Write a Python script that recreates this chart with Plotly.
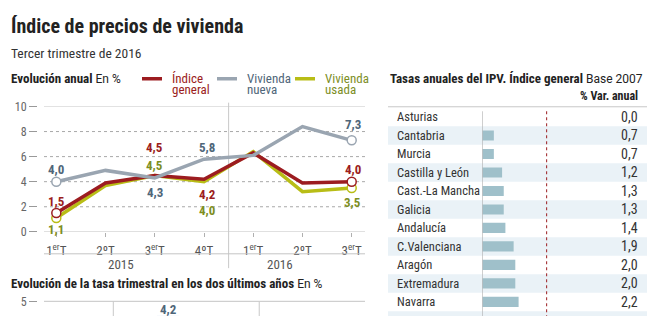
import plotly.graph_objects as go

# ---- data ---------------------------------------------------------------
trimestres = ["1<sup>er</sup>T", "2ºT", "3<sup>er</sup>T", "4ºT", "1<sup>er</sup>T", "2ºT", "3<sup>er</sup>T"]
anios = ["2015", "2016"]
indice_general = [1.5, 3.9, 4.5, 4.2, 6.3, 3.9, 4.0]
vivienda_nueva = [4.0, 4.9, 4.3, 5.8, 6.1, 8.4, 7.3]
vivienda_usada = [1.1, 3.7, 4.5, 4.0, 6.4, 3.2, 3.5]

ccaa = ["Asturias", "Cantabria", "Murcia", "Castilla y León", "Cast.-La Mancha",
        "Galicia", "Andalucía", "C.Valenciana", "Aragón", "Extremadura", "Navarra"]
tasa_ccaa = [0.0, 0.7, 0.7, 1.2, 1.3, 1.3, 1.4, 1.9, 2.0, 2.0, 2.2]
media_nacional = 3.9

trimestres_tasa = ["3T14", "4T14", "1T15", "2T15", "3T15", "4T15", "1T16", "2T16", "3T16"]
tasa_trimestral = {"2T15": 4.2}

# ---- helpers ------------------------------------------------------------
W, H = 664, 323
def px(x):
    return x / W
def py(y):
    return 1 - y / H

NARROW = "Roboto Condensed, DejaVu Sans Condensed, Liberation Sans Narrow, Roboto, sans-serif"
REG = "Roboto, Liberation Sans, Arial, sans-serif"
ROJO, GRIS, VERDE = "#9c1c20", "#9aa5b1", "#b8bd16"
ROJO_T, GRIS_T, VERDE_T = "#9b1d20", "#4f6679", "#7d8e1f"
fmt = lambda v: f"{v:.1f}".replace(".", ",")

fig = go.Figure()
xs = list(range(len(trimestres)))

series = [
    (vivienda_usada, VERDE, VERDE_T),
    (indice_general, ROJO, ROJO_T),
    (vivienda_nueva, GRIS, GRIS_T),
]
for vals, col, _ in series:
    fig.add_trace(go.Scatter(x=xs, y=vals, mode="lines", line=dict(color=col, width=3.5),
                             xaxis="x", yaxis="y", hoverinfo="skip", cliponaxis=False))
for vals, col, _ in series:
    fig.add_trace(go.Scatter(x=[xs[0], xs[-1]], y=[vals[0], vals[-1]], mode="markers",
                             marker=dict(size=9, color="white", line=dict(color=col, width=1.5)),
                             xaxis="x", yaxis="y", hoverinfo="skip", cliponaxis=False))

# labelled points: (series, colour, index, vertical offset, horizontal offset)
etiquetas = [
    (vivienda_nueva, GRIS_T, 0, 12, 0), (vivienda_nueva, GRIS_T, 2, -15, 0),
    (vivienda_nueva, GRIS_T, 3, 12, 3), (vivienda_nueva, GRIS_T, 6, 16, 1),
    (indice_general, ROJO_T, 0, 12, 0), (indice_general, ROJO_T, 2, 28, 0),
    (indice_general, ROJO_T, 3, -15, 3), (indice_general, ROJO_T, 6, 12, 1),
    (vivienda_usada, VERDE_T, 0, -11, 0), (vivienda_usada, VERDE_T, 2, 10, 0),
    (vivienda_usada, VERDE_T, 3, -29, 3), (vivienda_usada, VERDE_T, 6, -15, 1),
]
annotations = []
for vals, col, i, dy, dx in etiquetas:
    annotations.append(dict(x=xs[i], y=vals[i], xref="x", yref="y", text=f"<b>{fmt(vals[i])}</b>",
                            showarrow=False, yshift=dy, xshift=dx, yanchor="middle",
                            font=dict(family=NARROW, size=13, color=col)))

shapes = []
# horizontal guides of the line chart
for v in [0, 2, 4, 6, 8, 10]:
    solid = v in (0, 10)
    shapes.append(dict(type="line", xref="x domain", yref="y", x0=0, x1=1, y0=v, y1=v,
                       line=dict(color="#c4c4c4" if solid else "#a8a8a8", width=1,
                                 dash="solid" if solid else "dot"), layer="below"))
# separator under the quarter labels and between years
shapes.append(dict(type="line", xref="x domain", yref="paper", x0=0, x1=1, y0=py(258), y1=py(258),
                   line=dict(color="#c4c4c4", width=1)))
shapes.append(dict(type="line", xref="x", yref="paper", x0=3.5, x1=3.5, y0=py(100), y1=py(273),
                   line=dict(color="#c8c8c8", width=1), layer="below"))

# legend
leyenda = [("Índice", "general", ROJO, ROJO_T, 142), ("Vivienda", "nueva", GRIS, GRIS_T, 217),
           ("Vivienda", "usada", VERDE, VERDE_T, 295)]
for l1, l2, col, tcol, x0 in leyenda:
    shapes.append(dict(type="line", xref="paper", yref="paper", x0=px(x0), x1=px(x0 + 20),
                       y0=py(75), y1=py(75), line=dict(color=col, width=3.5)))
    for j, t in enumerate([l1, l2]):
        annotations.append(dict(x=px(x0 + 28), y=py(74.5 + 12 * j), xref="paper", yref="paper",
                                text=t, showarrow=False, xanchor="left", yanchor="middle",
                                font=dict(family=NARROW, size=13, color=tcol)))

# titles
def head(x, y, bold, rest, anchor="left", size=13):
    txt = f"<b>{bold}</b>"
    if rest:
        txt += f" <span style='font-family:{REG};font-size:12px'>{rest}</span>"
    annotations.append(dict(x=px(x), y=py(y), xref="paper", yref="paper", xanchor=anchor,
                            yanchor="middle", text=txt, showarrow=False,
                            font=dict(family=NARROW, size=size, color="#222")))

head(9, 20, "Índice de precios de vivienda", "", size=20)
annotations.append(dict(x=px(9), y=py(48), xref="paper", yref="paper", xanchor="left",
                        yanchor="middle", text="Tercer trimestre de 2016", showarrow=False,
                        font=dict(family=NARROW, size=13.5, color="#333")))
head(9, 74.5, "Evolución anual", "En %")
head(9, 289, "Evolución de la tasa trimestral en los dos últimos años", "En %")
head(388, 74.5, "Tasas anuales del IPV. Índice general", "Base 2007")
head(640, 93, "% Var. anual", "", anchor="right", size=12)

for anio, xc in zip(anios, [106, 280]):
    annotations.append(dict(x=px(xc), y=py(269), xref="paper", yref="paper", text=anio,
                            yanchor="middle", showarrow=False,
                            font=dict(family=NARROW, size=13, color="#555")))

# ---- regional table -----------------------------------------------------
filas = list(range(len(ccaa)))
shapes.append(dict(type="line", xref="paper", yref="paper", x0=px(388), x1=px(647),
                   y0=py(104.3), y1=py(104.3), line=dict(color="#c8c8c8", width=1)))
for r in range(len(ccaa) + 1):
    if r % 2 == 1:
        shapes.append(dict(type="rect", xref="paper", yref="y2", x0=px(388), x1=px(647),
                           y0=r - 0.5, y1=r + 0.5, fillcolor="#eaf2f7", line=dict(width=0),
                           layer="below"))
shapes.append(dict(type="line", xref="x2", yref="paper", x0=0, x1=0, y0=py(109), y1=0,
                   line=dict(color="#aaaaaa", width=1)))
shapes.append(dict(type="line", xref="x2", yref="paper", x0=media_nacional, x1=media_nacional,
                   y0=py(109), y1=0, line=dict(color="#9b1d20", width=1, dash="dot")))
fig.add_trace(go.Bar(x=tasa_ccaa, y=filas, orientation="h", width=0.55,
                     marker=dict(color="#9fc0ca", line=dict(width=0)),
                     xaxis="x2", yaxis="y2", hoverinfo="skip"))
for r, (nombre, v) in enumerate(zip(ccaa, tasa_ccaa)):
    annotations.append(dict(x=px(395), y=r, xref="paper", yref="y2", xanchor="left",
                            yanchor="middle", text=nombre, showarrow=False,
                            font=dict(family=NARROW, size=12.5, color="#333")))
    annotations.append(dict(x=px(640), y=r, xref="paper", yref="y2", xanchor="right",
                            yanchor="middle", text=fmt(v), showarrow=False,
                            font=dict(family=NARROW, size=14, color="#333")))

# ---- quarterly rate chart (bottom) --------------------------------------
tq_x = list(tasa_trimestral.keys())
tq_y = list(tasa_trimestral.values())
fig.add_trace(go.Bar(x=tq_x, y=tq_y, width=0.6, marker=dict(color="#9aa5b1"),
                     xaxis="x3", yaxis="y3", hoverinfo="skip"))
for q, v in tasa_trimestral.items():
    annotations.append(dict(x=q, y=v, xref="x3", yref="y3", text=f"<b>{fmt(v)}</b>",
                            showarrow=False, yanchor="bottom", yshift=-3,
                            font=dict(family=NARROW, size=13, color=GRIS_T)))
shapes.append(dict(type="line", xref="x3 domain", yref="y3", x0=0, x1=1, y0=5, y1=5,
                   line=dict(color="#c4c4c4", width=1)))
for b in (1.5, 5.5):
    shapes.append(dict(type="line", xref="x3", yref="paper", x0=b, x1=b, y0=py(308), y1=0,
                       line=dict(color="#c8c8c8", width=1)))

tickfont = dict(family=NARROW, size=12, color="#666")
fig.update_layout(
    width=W, height=H, margin=dict(l=0, r=0, t=0, b=0),
    paper_bgcolor="white", plot_bgcolor="rgba(0,0,0,0)", showlegend=False,
    xaxis=dict(domain=[px(44), px(365)], range=[-0.25, 6.27], tickvals=xs, ticktext=trimestres,
               showgrid=False, zeroline=False, showline=False, ticks="outside", ticklen=4,
               tickcolor="#b0b0b0", tickfont=dict(family=NARROW, size=13, color="#555"),
               ticklabelstandoff=3, anchor="y"),
    yaxis=dict(domain=[py(235), py(104)], range=[0, 10], tickvals=[0, 2, 4, 6, 8, 10],
               anchor="free", position=px(37), showgrid=False, zeroline=False, showline=False,
               ticks="outside", ticklen=8, tickcolor="#999", tickfont=tickfont),
    xaxis2=dict(domain=[px(482.3), px(647)], range=[0, (647 - 482.3) / 16.5], visible=False,
                anchor="y2"),
    yaxis2=dict(domain=[0, py(105.3)], range=[(323 - 115) / 19.33, -0.5], visible=False,
                anchor="x2"),
    xaxis3=dict(domain=[px(44), px(365)], range=[-0.4, 8.4], visible=False, anchor="y3",
                type="category", categoryorder="array", categoryarray=trimestres_tasa),
    yaxis3=dict(domain=[0, py(300)], range=[4.2, 5.4], tickvals=[5], anchor="free",
                position=px(37), showgrid=False, zeroline=False, showline=False,
                ticks="outside", ticklen=8, tickcolor="#999", tickfont=tickfont),
    shapes=shapes, annotations=annotations,
)

fig.write_html("out.html")
